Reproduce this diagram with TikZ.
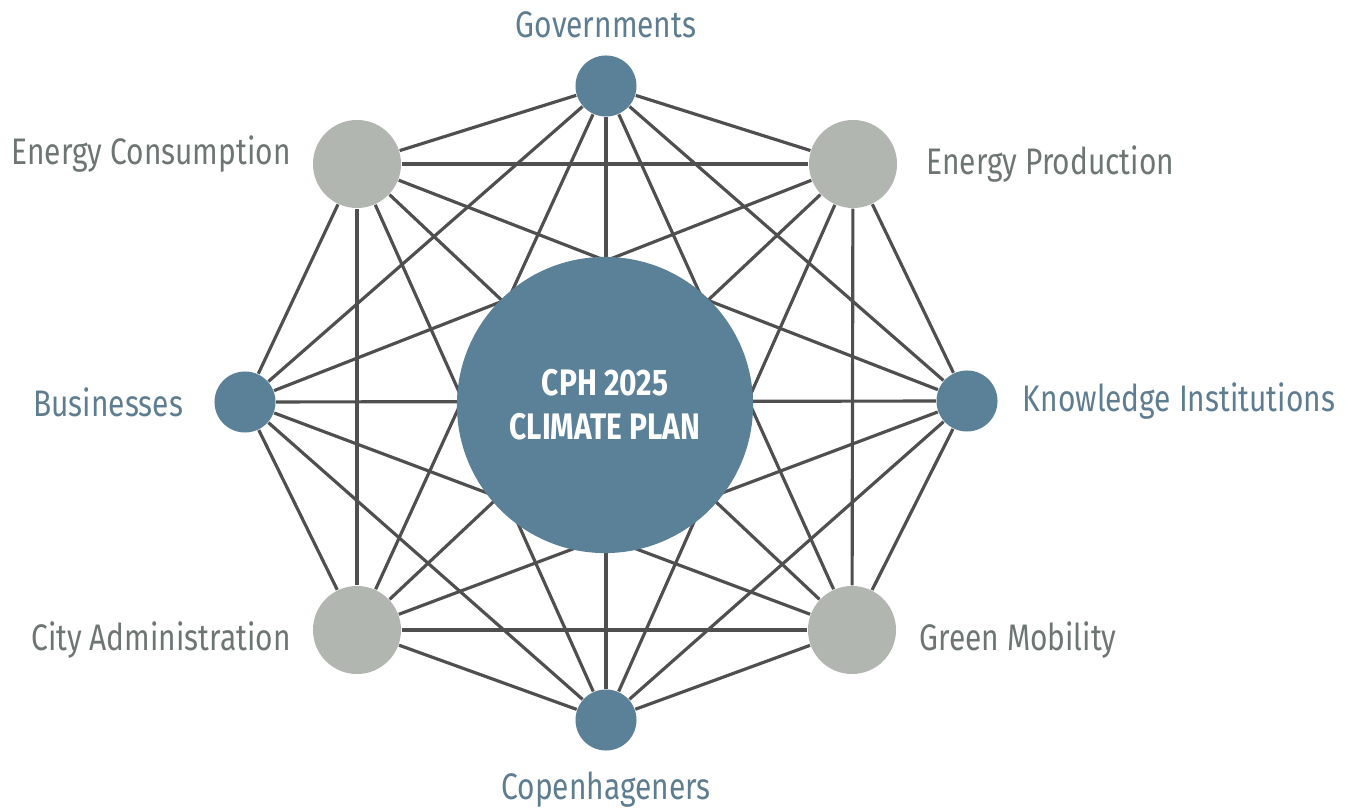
\documentclass[tikz,border=0pt]{standalone}
\usepackage{fontspec}
\setmainfont{Fira Sans}[FakeStretch=0.81]
\usetikzlibrary{positioning}
\pgfdeclarelayer{background}
\pgfsetlayers{background,main}
\definecolor{cphblue}{HTML}{5B8199}
\definecolor{cphgrey}{HTML}{B2B6B0}
\definecolor{bluetext}{HTML}{5F7D91}
\definecolor{greytext}{HTML}{6E7673}
\definecolor{linkgrey}{HTML}{4F4F4F}

\begin{document}
\begin{tikzpicture}[
      x=0.01cm, y=-0.01cm,
      hub/.style={circle, fill=cphblue, inner sep=0, minimum size=2.96cm,
        text=white, font=\fontsize{10.5}{12.5}\selectfont\bfseries, align=center},
      actor/.style={circle, fill=cphblue, inner sep=0, minimum size=0.61cm},
      sector/.style={circle, fill=cphgrey, inner sep=0, minimum size=0.88cm},
      tag/.style={inner sep=0, font=\fontsize{10.5}{12}\selectfont},
      link/.style={draw=linkgrey, line width=0.9pt},
      node distance=0.22cm
    ]
      \useasboundingbox (0,0) rectangle (1345,810);

      % centre
      \node[hub] (plan) at (605,405) {CPH 2025\\CLIMATE PLAN};

      % stakeholders round the plan
      \node[actor]  (gov)  at (606,86)  {};
      \node[sector] (eprod) at (853,164) {};
      \node[actor]  (know) at (967,401) {};
      \node[sector] (mob)  at (852,630) {};
      \node[actor]  (cph)  at (606,720) {};
      \node[sector] (city) at (357,630) {};
      \node[actor]  (bus)  at (245,402) {};
      \node[sector] (econ) at (357,164) {};

      % labels
      \node[tag, text=bluetext, above=0.16cm of gov] (gov-t) {Governments};
      \node[tag, text=greytext, right=0.28cm of eprod] (eprod-t) {Energy Production};
      \node[tag, text=bluetext, right=0.24cm of know] (know-t) {Knowledge Institutions};
      \node[tag, text=greytext, right=0.22cm of mob, yshift=-0.1cm] (mob-t) {Green Mobility};
      \node[tag, text=bluetext, below=0.2cm of cph] (cph-t) {Copenhageners};
      \node[tag, text=greytext, left=0.21cm of city, yshift=-0.1cm] (city-t) {City Administration};
      \node[tag, text=bluetext, left=0.3cm of bus] (bus-t) {Businesses};
      \node[tag, text=greytext, left=0.21cm of econ, yshift=0.1cm] (econ-t) {Energy Consumption};

      % every stakeholder linked to every other one
      \begin{pgfonlayer}{background}
        \foreach \a [count=\i] in {gov,eprod,know,mob,cph,city,bus,econ}{
          \foreach \b [count=\j] in {gov,eprod,know,mob,cph,city,bus,econ}{
            \ifnum\j>\i
              \draw[link] (\a) -- (\b);
            \fi
          }
        }
      \end{pgfonlayer}
    \end{tikzpicture}
\end{document}
